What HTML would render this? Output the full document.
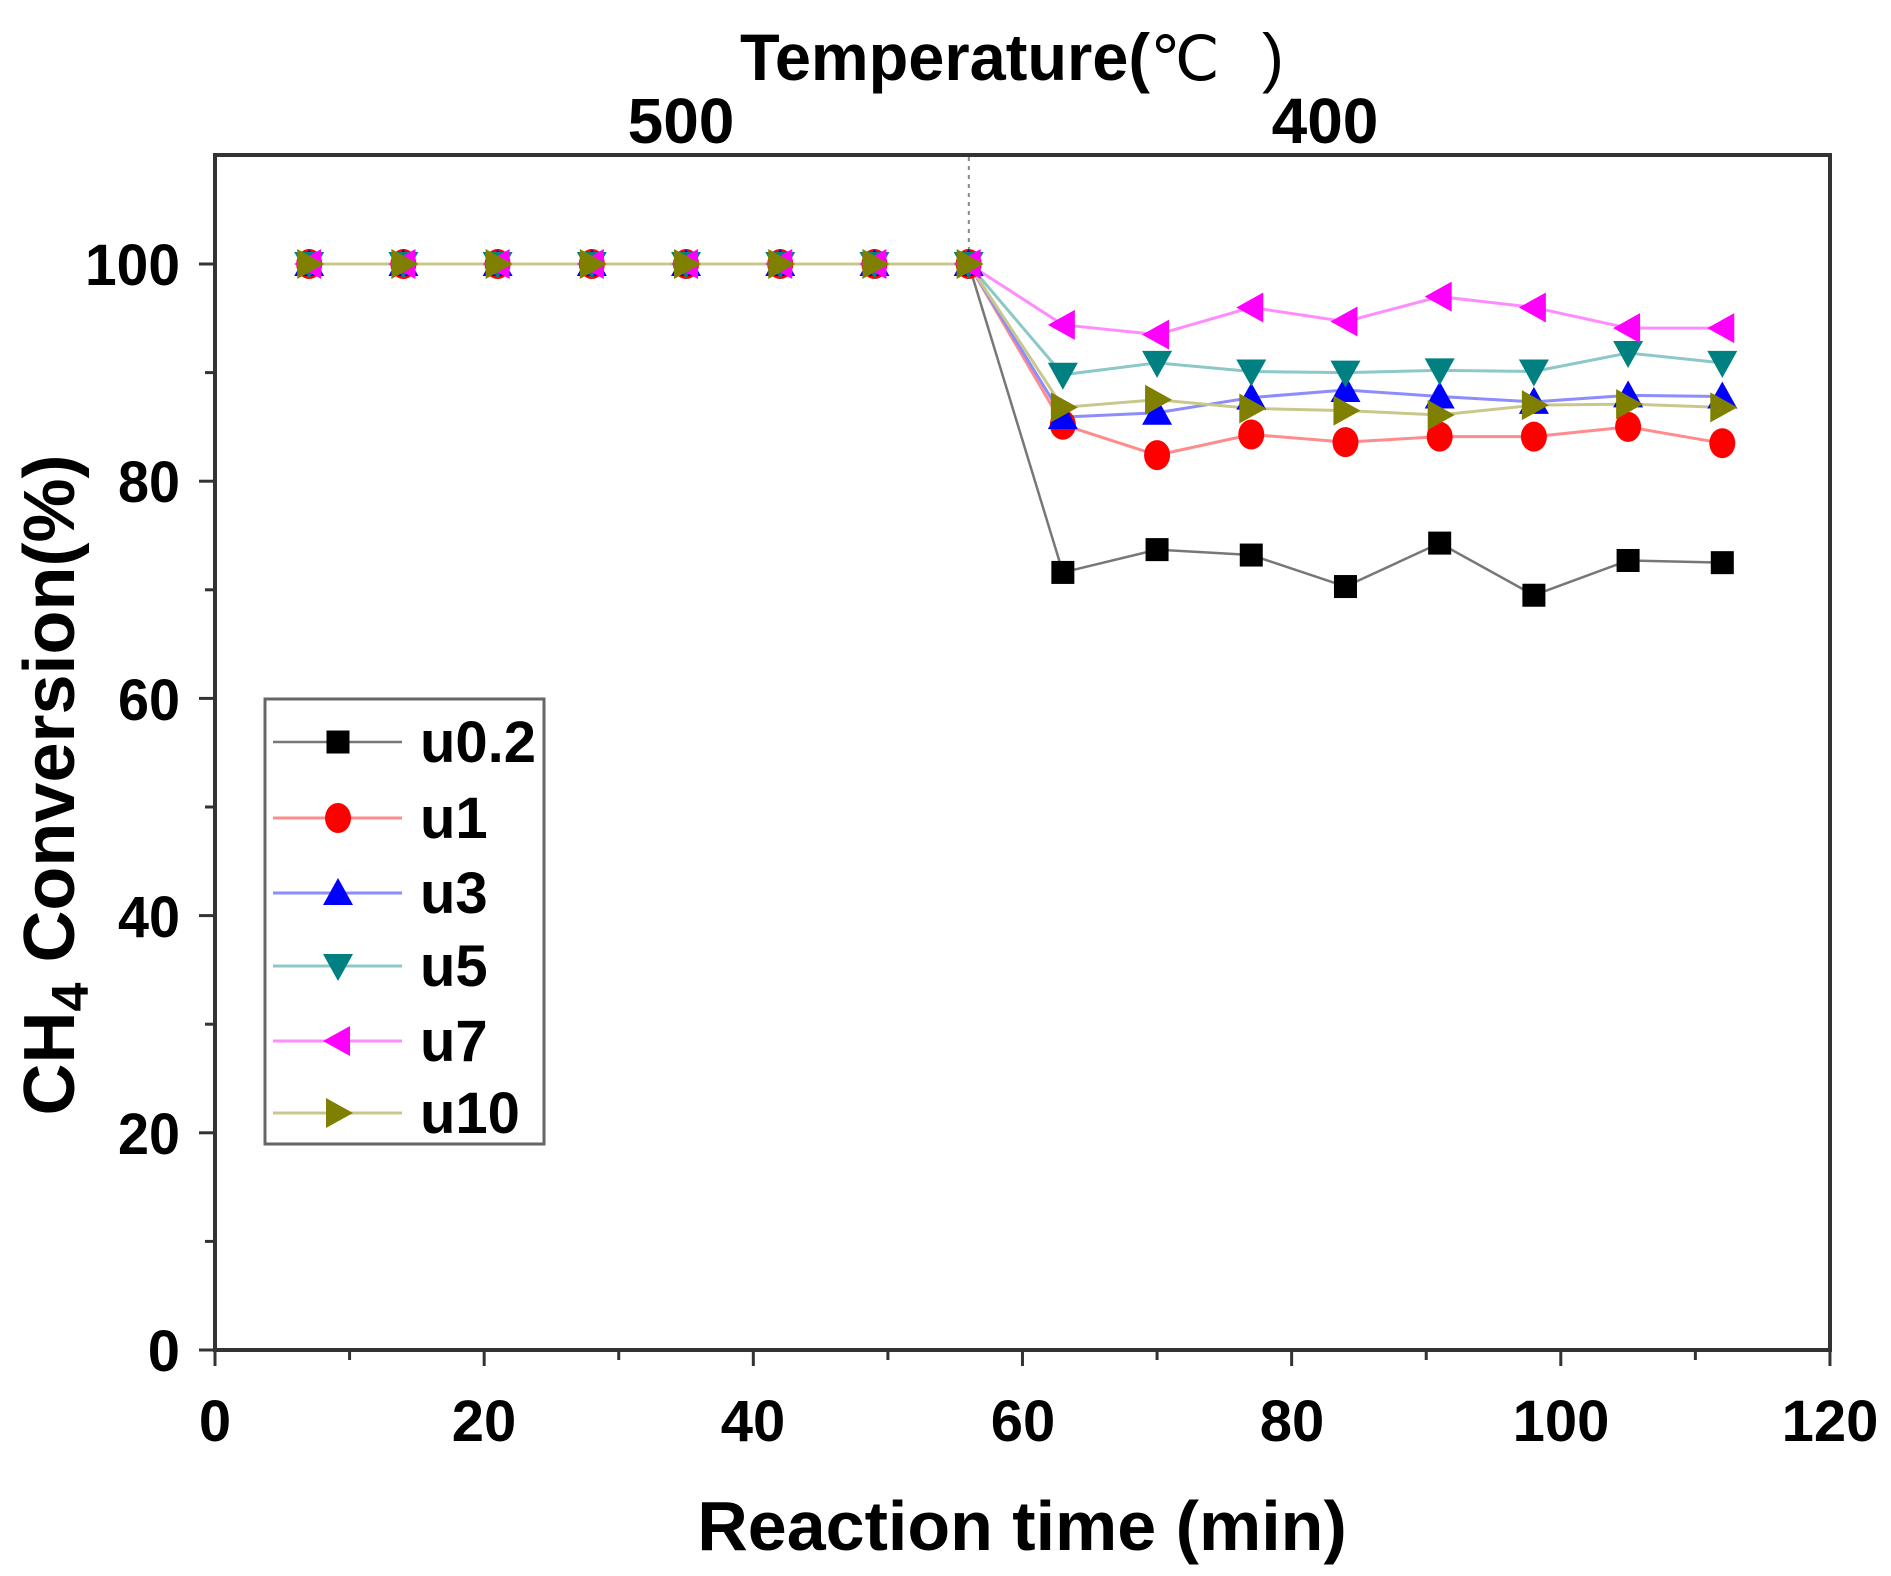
<!DOCTYPE html>
<html><head><meta charset="utf-8"><style>
html,body{margin:0;padding:0;background:#fff;}
svg{display:block;}
text{font-family:"Liberation Sans",Arial,sans-serif;font-weight:bold;fill:#000;}
</style></head><body>
<svg id="s" width="1891" height="1576" viewBox="0 0 1891 1576" xmlns="http://www.w3.org/2000/svg">
<rect width="1891" height="1576" fill="#fff"/>
<rect x="215" y="155" width="1615" height="1195" fill="none" stroke="#333" stroke-width="4"/>
<g stroke="#333" stroke-width="3" id="ticks"></g>
<line x1="968.8" y1="157" x2="968.8" y2="264" stroke="#888" stroke-width="2" stroke-dasharray="4,5"/>
<g font-size="58" text-anchor="end">
<text x="180" y="1371">0</text>
<text x="180" y="1154" textLength="62" lengthAdjust="spacingAndGlyphs">20</text>
<text x="180" y="937" textLength="62" lengthAdjust="spacingAndGlyphs">40</text>
<text x="180" y="720" textLength="62" lengthAdjust="spacingAndGlyphs">60</text>
<text x="180" y="502" textLength="62" lengthAdjust="spacingAndGlyphs">80</text>
<text x="180" y="285" textLength="95" lengthAdjust="spacingAndGlyphs">100</text>
</g>
<g font-size="58" text-anchor="middle">
<text x="215" y="1441">0</text>
<text x="484" y="1441">20</text>
<text x="753" y="1441">40</text>
<text x="1023" y="1441">60</text>
<text x="1292" y="1441">80</text>
<text x="1561" y="1441">100</text>
<text x="1830" y="1441">120</text>
</g>
<text x="1022" y="1550" font-size="70" text-anchor="middle">Reaction time (min)</text>
<text font-size="72" text-anchor="middle" transform="translate(74,785) rotate(-90)">CH<tspan font-size="52" dy="14">4</tspan><tspan dy="-14"> Conversion(%)</tspan></text>
<text x="740" y="80" font-size="66" textLength="410" lengthAdjust="spacingAndGlyphs">Temperature(</text>
<text x="1150" y="80" font-size="62" style="font-weight:normal">℃</text>
<text x="1262" y="80" font-size="66" style="font-weight:normal">)</text>
<text x="681" y="143" font-size="64" text-anchor="middle">500</text>
<text x="1325" y="143" font-size="64" text-anchor="middle">400</text>
<g id="series"></g>
<rect x="265" y="699" width="279" height="445" fill="#fff" stroke="#666" stroke-width="3"/>
<g id="leg"></g>
<g font-size="58">
<text x="420" y="762">u0.2</text>
<text x="420" y="838">u1</text>
<text x="420" y="913">u3</text>
<text x="420" y="986">u5</text>
<text x="420" y="1061">u7</text>
<text x="420" y="1133">u10</text>
</g>
</svg>
<script>
var NS="http://www.w3.org/2000/svg";
function el(t,a,p){var e=document.createElementNS(NS,t);for(var k in a)e.setAttribute(k,a[k]);p.appendChild(e);return e;}
var X=function(v){return 215+v*13.458;},Y=function(v){return 1350-v*10.86;};
var tk=document.getElementById('ticks');
for(var i=0;i<=120;i+=10){var L=(i%20==0)?16:10;el('line',{x1:X(i),y1:1350,x2:X(i),y2:1350+L},tk);}
for(var j=0;j<=100;j+=10){var L=(j%20==0)?16:10;el('line',{x1:215,y1:Y(j),x2:215-L,y2:Y(j)},tk);}
var xs=[7,14,21,28,35,42,49,56,63,70,77,84,91,98,105,112];
var P=[100,100,100,100,100,100,100,100];
var S=[
{c:'#000',l:'#777',w:2.5,m:'sq',d:P.concat([71.6,73.7,73.2,70.3,74.3,69.5,72.7,72.5])},
{c:'#f00',l:'#ff8c8c',w:3,m:'ci',d:P.concat([85.2,82.4,84.3,83.6,84.1,84.1,85.0,83.5])},
{c:'#00f',l:'#8c8cff',w:3,m:'up',d:P.concat([85.9,86.3,87.7,88.4,87.8,87.3,87.9,87.8])},
{c:'#008080',l:'#8cc8c8',w:3,m:'dn',d:P.concat([89.8,90.9,90.1,90.0,90.2,90.1,91.8,90.9])},
{c:'#f0f',l:'#ff8cff',w:3,m:'lf',d:P.concat([94.4,93.5,96.0,94.7,97.0,96.0,94.1,94.1])},
{c:'#808000',l:'#c8c88c',w:3,m:'rt',d:P.concat([86.8,87.5,86.7,86.5,86.1,87.0,87.1,86.8])}];
function mk(t,x,y,c,g){var r=15;
 if(t=='sq')el('rect',{x:x-11.5,y:y-11.5,width:23,height:23,fill:c},g);
 else if(t=='ci')el('ellipse',{cx:x,cy:y,rx:13,ry:15,fill:c},g);
 else{var p;
  if(t=='up')p=[[x,y-r],[x+r,y+r*0.8],[x-r,y+r*0.8]];
  if(t=='dn')p=[[x,y+r],[x+r,y-r*0.8],[x-r,y-r*0.8]];
  if(t=='lf')p=[[x-r,y],[x+r*0.8,y-r],[x+r*0.8,y+r]];
  if(t=='rt')p=[[x+r,y],[x-r*0.8,y-r],[x-r*0.8,y+r]];
  el('polygon',{points:p.map(function(q){return q.join(',')}).join(' '),fill:c},g);}
}
var sg=document.getElementById('series');
S.forEach(function(s){el('polyline',{points:xs.map(function(x,i){return X(x)+','+Y(s.d[i])}).join(' '),fill:'none',stroke:s.l,'stroke-width':s.w},sg);});
S.forEach(function(s){xs.forEach(function(x,i){mk(s.m,X(x),Y(s.d[i]),s.c,sg);});});
var lg=document.getElementById('leg');var ly=[742,818,893,966,1041,1113];
S.forEach(function(s,i){el('line',{x1:273,y1:ly[i],x2:402,y2:ly[i],stroke:s.l,'stroke-width':s.w},lg);mk(s.m,338,ly[i],s.c,lg);});
</script>
</body></html>
